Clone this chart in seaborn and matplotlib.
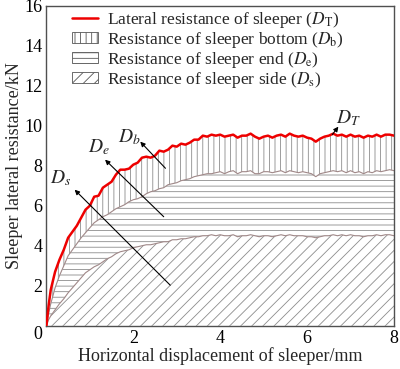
import numpy as np
import pandas as pd
import matplotlib
matplotlib.use("Agg")
import matplotlib.pyplot as plt
import seaborn as sns
from matplotlib.lines import Line2D
from matplotlib.patches import Patch

# ---- data ----
disp = [0.0, 0.05, 0.1, 0.2, 0.3, 0.4, 0.5, 0.6, 0.7, 0.8, 0.9, 1.0,
        1.1, 1.2, 1.3, 1.4, 1.5, 1.6, 1.7, 1.8, 1.9, 2.0,
        2.1, 2.2, 2.3, 2.4, 2.5, 2.6, 2.7, 2.8, 2.9, 3.0,
        3.1, 3.2, 3.3, 3.4, 3.5, 3.6, 3.7, 3.8, 3.9, 4.0,
        4.1, 4.2, 4.3, 4.4, 4.5, 4.6, 4.7, 4.8, 4.9, 5.0,
        5.1, 5.2, 5.3, 5.4, 5.5, 5.6, 5.7, 5.8, 5.9, 6.0,
        6.1, 6.2, 6.3, 6.4, 6.5, 6.6, 6.7, 6.8, 6.9, 7.0,
        7.1, 7.2, 7.3, 7.4, 7.5, 7.6, 7.7, 7.8, 7.9, 8.0]

# total lateral resistance D_T
total_DT = [0.0, 1.0, 1.8, 2.7, 3.3, 3.8, 4.4, 4.7, 5.0, 5.4, 5.8, 6.0,
            6.45, 6.5, 6.9, 7.05, 7.2, 7.55, 7.8, 7.8, 7.85, 8.05,
            8.15, 8.4, 8.45, 8.4, 8.5, 8.75, 8.7, 8.8, 9.0, 8.95,
            9.1, 9.05, 9.15, 9.3, 9.3, 9.5, 9.45, 9.55, 9.5, 9.55,
            9.45, 9.5, 9.55, 9.4, 9.5, 9.5, 9.6, 9.45, 9.35, 9.45,
            9.5, 9.4, 9.5, 9.55, 9.45, 9.6, 9.5, 9.45, 9.5, 9.4,
            9.35, 9.2, 9.35, 9.45, 9.5, 9.6, 9.5, 9.55, 9.45, 9.55,
            9.45, 9.5, 9.4, 9.5, 9.45, 9.55, 9.45, 9.55, 9.55, 9.5]

# cumulative side + end resistance (Ds + De)
side_end = [0.0, 0.6, 1.1, 1.9, 2.5, 3.0, 3.5, 3.8, 4.1, 4.4, 4.65, 4.9,
            5.15, 5.3, 5.45, 5.55, 5.7, 5.85, 5.95, 6.05, 6.2, 6.3,
            6.35, 6.45, 6.6, 6.7, 6.75, 6.85, 6.9, 7.05, 7.1, 7.15,
            7.25, 7.3, 7.35, 7.45, 7.5, 7.55, 7.6, 7.6, 7.65, 7.7,
            7.6, 7.7, 7.75, 7.6, 7.7, 7.7, 7.75, 7.6, 7.6, 7.7,
            7.7, 7.65, 7.7, 7.75, 7.65, 7.75, 7.7, 7.65, 7.7, 7.65,
            7.6, 7.45, 7.6, 7.65, 7.7, 7.75, 7.7, 7.75, 7.65, 7.75,
            7.65, 7.7, 7.6, 7.7, 7.65, 7.75, 7.7, 7.75, 7.8, 7.75]

# side resistance Ds
side_Ds = [0.0, 0.3, 0.5, 0.8, 1.1, 1.35, 1.65, 1.9, 2.15, 2.4, 2.65, 2.8,
           2.95, 3.05, 3.2, 3.35, 3.45, 3.6, 3.7, 3.75, 3.8, 3.9,
           3.95, 4.0, 4.05, 4.05, 4.1, 4.15, 4.2, 4.2, 4.3, 4.3,
           4.35, 4.35, 4.4, 4.45, 4.45, 4.5, 4.5, 4.55, 4.5, 4.55,
           4.5, 4.5, 4.55, 4.45, 4.5, 4.5, 4.55, 4.5, 4.45, 4.5,
           4.5, 4.45, 4.5, 4.55, 4.5, 4.55, 4.5, 4.5, 4.5, 4.45,
           4.45, 4.4, 4.45, 4.5, 4.5, 4.55, 4.5, 4.55, 4.5, 4.55,
           4.5, 4.5, 4.45, 4.5, 4.5, 4.55, 4.5, 4.55, 4.55, 4.5]

x_ticks = [0, 2, 4, 6, 8]
x_ticklabels = ["", "2", "4", "6", "8"]
y_ticks = [0, 2, 4, 6, 8, 10, 12, 14, 16]

legend_labels = ["Lateral resistance of sleeper ($D_{\\mathrm{T}}$)",
                 "Resistance of sleeper bottom ($D_{\\mathrm{b}}$)",
                 "Resistance of sleeper end ($D_{\\mathrm{e}}$)",
                 "Resistance of sleeper side ($D_{\\mathrm{s}}$)"]

df = pd.DataFrame({"disp": disp, "DT": total_DT, "SE": side_end, "DS": side_Ds})

sns.set_theme(style="white")
plt.rcParams["font.family"] = ["Liberation Serif", "DejaVu Serif"]
plt.rcParams["mathtext.fontset"] = "stix"
plt.rcParams["hatch.linewidth"] = 0.6
plt.rcParams["xtick.direction"] = "in"
plt.rcParams["ytick.direction"] = "in"

fig = plt.figure(figsize=(4.0, 3.69), dpi=100)
ax = fig.add_axes([0.116, 0.117, 0.869, 0.868])

hatch_col = "#8c8c8c"
ax.fill_between(df["disp"], 0, df["DS"], facecolor="white", edgecolor=hatch_col,
                hatch="///", linewidth=0, zorder=1)
ax.fill_between(df["disp"], df["DS"], df["SE"], facecolor="white", edgecolor=hatch_col,
                hatch="---", linewidth=0, zorder=1)
ax.fill_between(df["disp"], df["SE"], df["DT"], facecolor="white", edgecolor=hatch_col,
                hatch="|||", linewidth=0, zorder=1)

bcol = "#a08888"
sns.lineplot(data=df, x="disp", y="DS", ax=ax, color=bcol, lw=0.8, zorder=2)
sns.lineplot(data=df, x="disp", y="SE", ax=ax, color=bcol, lw=0.8, zorder=2)
sns.lineplot(data=df, x="disp", y="DT", ax=ax, color="#ee0000", lw=1.8, zorder=3)

ax.set_xlim(0, 8)
ax.set_ylim(0, 16)
ax.set_xticks(x_ticks)
ax.set_xticklabels(x_ticklabels)
ax.set_yticks(y_ticks)
ax.tick_params(labelsize=13, length=3, width=0.8, colors="#404040",
               labelcolor="black", pad=3)
ax.get_yticklabels()[0].set_va("top")
for s in ax.spines.values():
    s.set_color("#505050")
    s.set_linewidth(1.0)
ax.set_xlabel("Horizontal displacement of sleeper/mm", fontsize=13, labelpad=0)
ax.set_ylabel("Sleeper lateral resistance/kN", fontsize=13, labelpad=1)

# annotations
arrow_kw = dict(arrowstyle="-|>", color="black", lw=0.8, mutation_scale=7,
                shrinkA=0, shrinkB=0)
ax.annotate("", xy=(0.65, 6.8), xytext=(2.85, 2.03), arrowprops=arrow_kw, zorder=4)
ax.annotate("", xy=(1.35, 8.3), xytext=(2.7, 5.45), arrowprops=arrow_kw, zorder=4)
ax.annotate("", xy=(2.16, 9.2), xytext=(2.74, 7.87), arrowprops=arrow_kw, zorder=4)
ax.annotate("", xy=(6.72, 9.95), xytext=(6.58, 9.55), arrowprops=arrow_kw, zorder=4)
ax.text(0.33, 7.4, r"$D_s$", fontsize=14, ha="center", va="center")
ax.text(1.2, 8.95, r"$D_e$", fontsize=14, ha="center", va="center")
ax.text(1.9, 9.45, r"$D_b$", fontsize=14, ha="center", va="center")
ax.text(6.95, 10.37, r"$D_T$", fontsize=14, ha="center", va="center")

handles = [Line2D([0], [0], color="#ee0000", lw=1.8),
           Patch(facecolor="white", edgecolor="#555555", hatch="|||", lw=0.6),
           Patch(facecolor="white", edgecolor="#555555", hatch="---", lw=0.6),
           Patch(facecolor="white", edgecolor="#555555", hatch="///", lw=0.6)]
ax.legend(handles, legend_labels, loc="upper left", bbox_to_anchor=(0.045, 1.02),
          frameon=False, fontsize=12.5, handlelength=1.45, handleheight=0.6,
          handletextpad=0.55, labelspacing=0.0, borderaxespad=0.2)

fig.savefig("out.png", dpi=100)
